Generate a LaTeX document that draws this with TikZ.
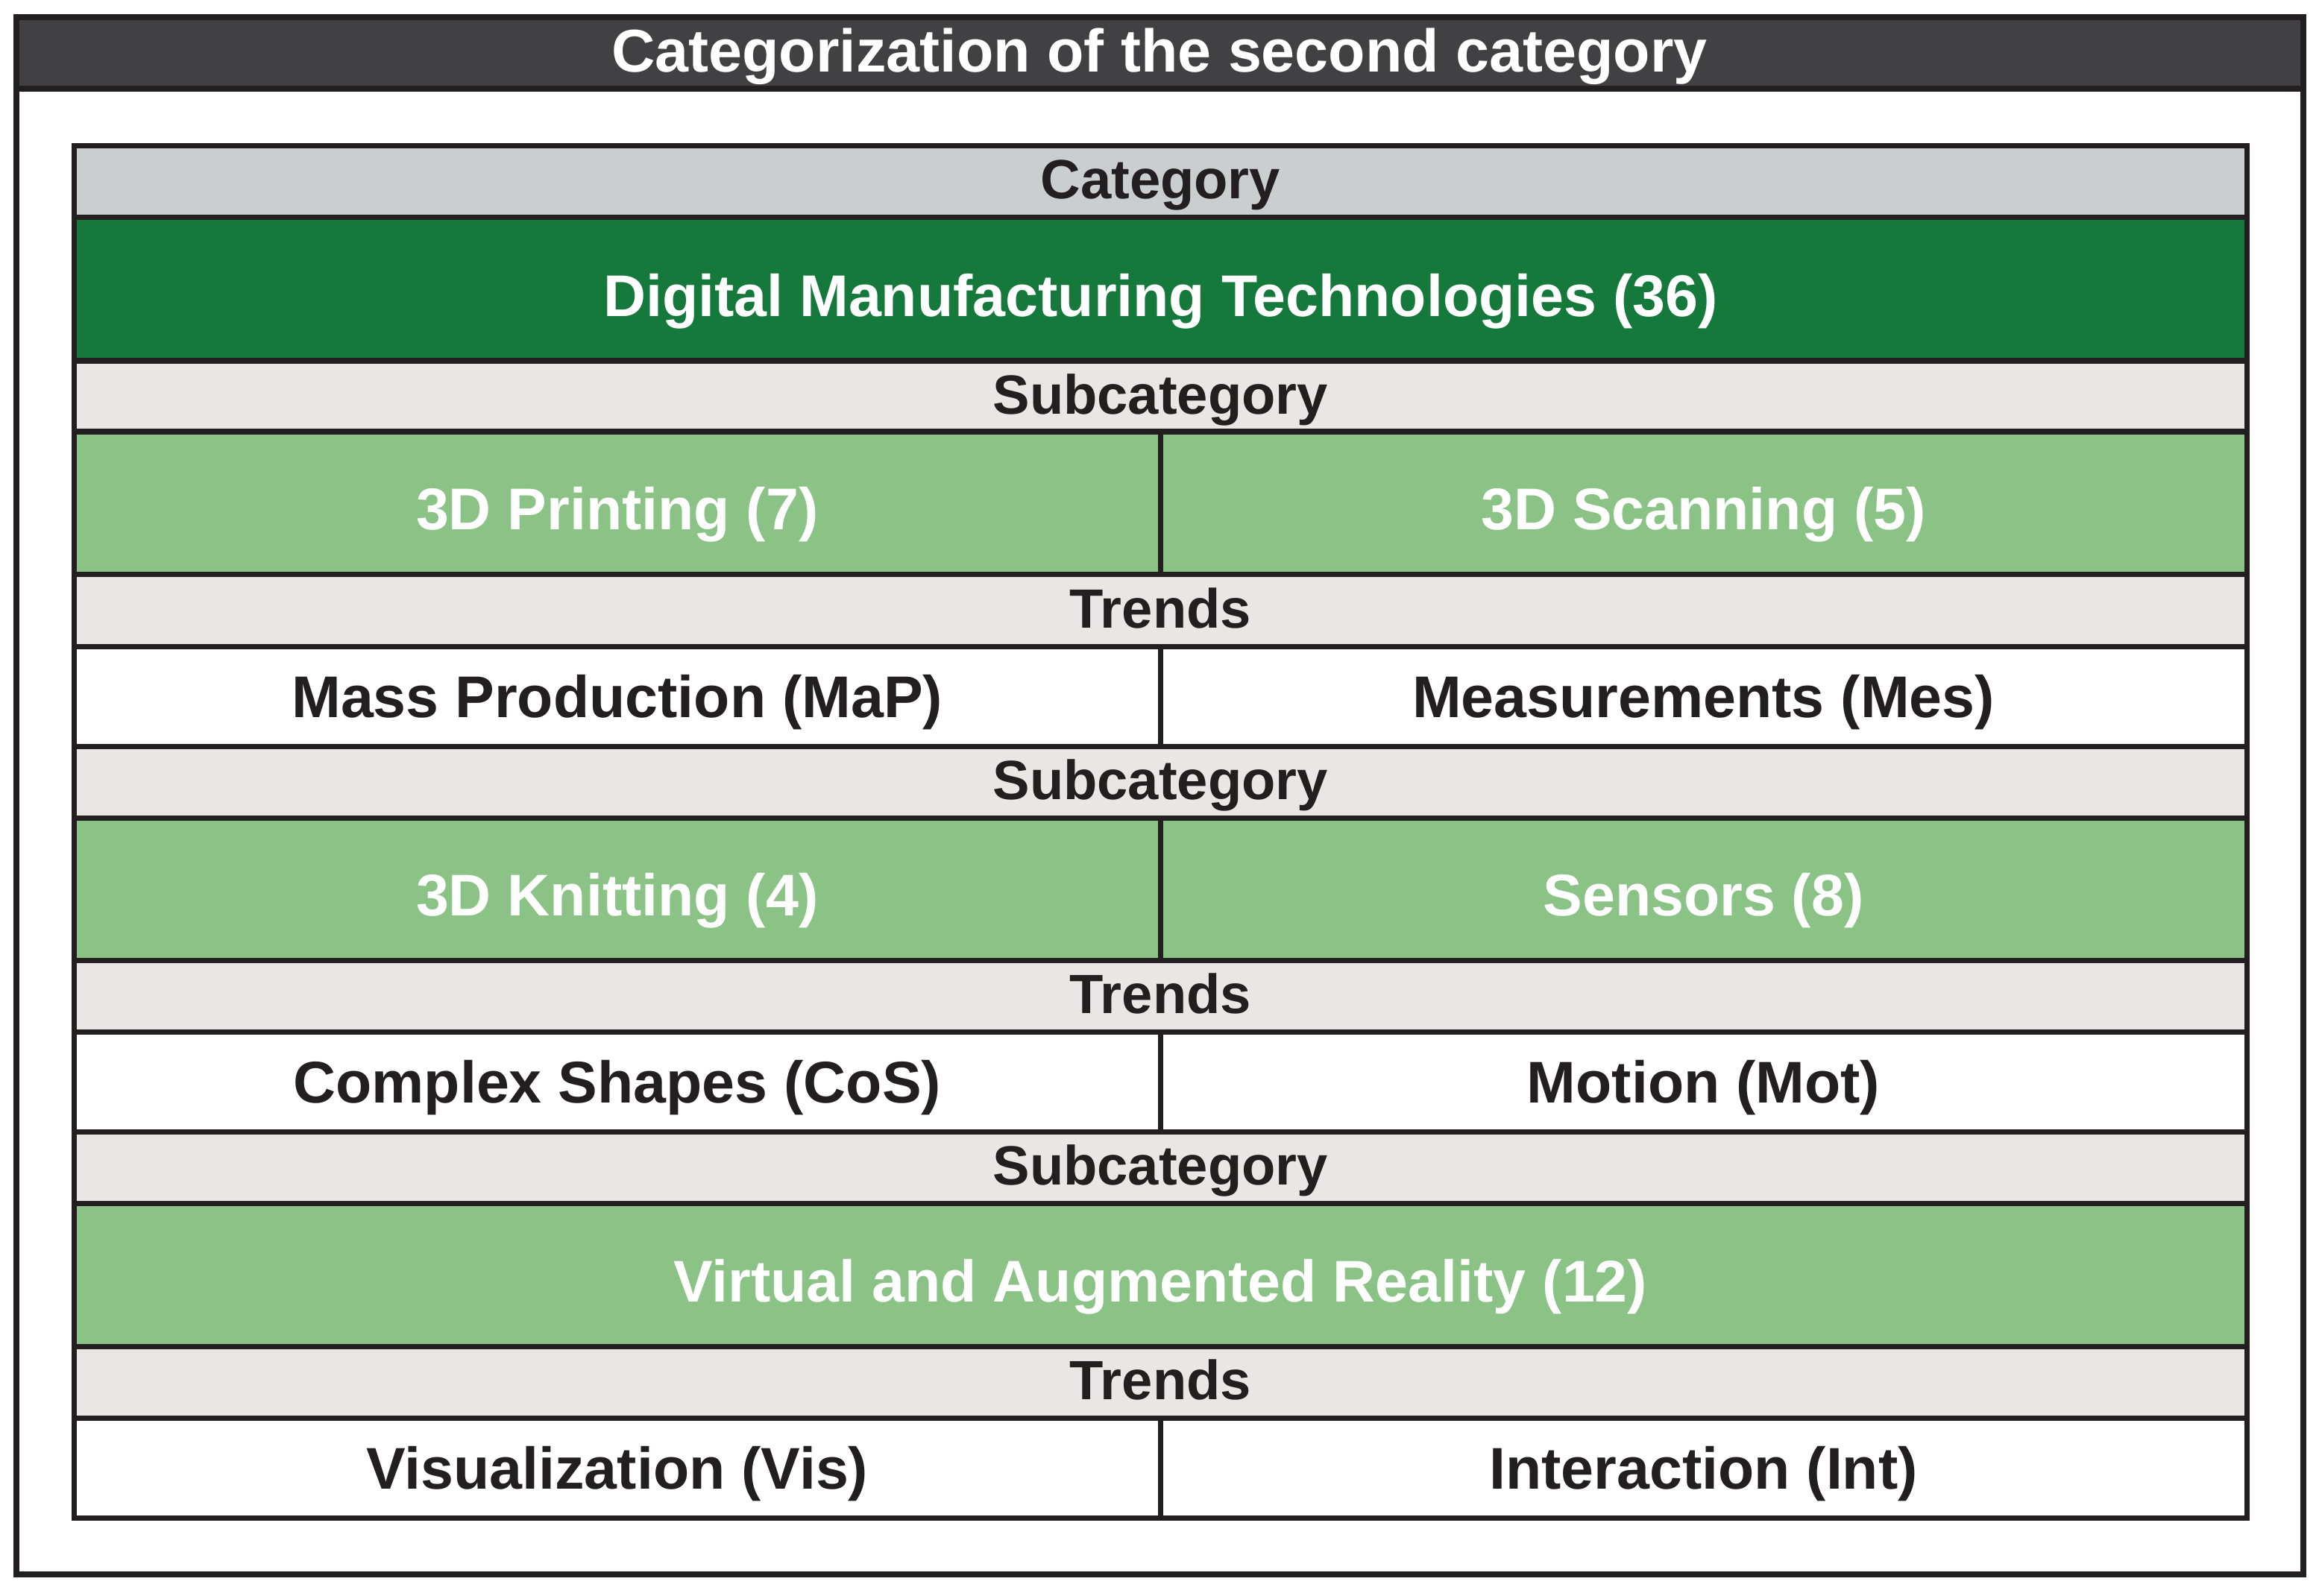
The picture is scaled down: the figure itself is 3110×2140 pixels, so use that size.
\documentclass[tikz,border=0pt]{standalone}
\usepackage{fontspec}
\setmainfont{Liberation Sans}
\definecolor{barbg}{HTML}{414042}
\definecolor{cathead}{HTML}{CBCECF}
\definecolor{dkgreen}{HTML}{16793C}
\definecolor{ltgreen}{HTML}{8BC386}
\definecolor{subhead}{HTML}{E8E7E6}
\definecolor{ink}{HTML}{231F20}
\tikzset{
  cell/.style={draw=ink, line width=0.07cm, inner sep=0pt, outer sep=0pt,
    font=\fontsize{22.45}{26}\selectfont\bfseries, text=ink,
    text height=16.1pt, text depth=0pt, fill=white},
  headcell/.style={cell, fill=subhead, font=\fontsize{21.1}{25}\selectfont\bfseries,
    text height=15.1pt, text depth=1.7pt},
  cathcell/.style={headcell, fill=cathead, text depth=2.3pt},
  dkcell/.style={cell, fill=dkgreen, text=white, text height=20.6pt},
  ltcell/.style={cell, fill=ltgreen, text=white, text height=20.6pt},
  framebox/.style={draw=ink, line width=0.08cm, inner sep=0pt, outer sep=0pt, fill=white},
  titlebar/.style={draw=ink, line width=0.08cm, inner sep=0pt, outer sep=0pt, fill=barbg},
  titletext/.style={font=\fontsize{23}{27}\selectfont\bfseries, text=white, inner sep=0pt,
    text height=16.5pt, text depth=0pt}
}
\newcommand\mycell[7]{\node[#6, minimum width={(#4-#2)*0.01cm}, minimum height={(#5-#3)*0.01cm}] (#1) at ({(#2+#4)/2},{(#3+#5)/2}) {#7};}
\begin{document}
\begin{tikzpicture}[x=0.01cm, y=-0.01cm]
\useasboundingbox (0,0) rectangle (3110,2140);
% outer frame and title bar
\mycell{frame}{22}{23}{3089}{2112}{framebox}{}
\mycell{bar}{22}{23}{3089}{119}{titlebar}{}
\node[titletext] (title) at (1555,67) {Categorization of the second category};
% table
\mycell{cat}{99.5}{196}{3013}{292}{cathcell}{Category}
\mycell{dmt}{99.5}{292}{3013}{484}{dkcell}{Digital Manufacturing Technologies (36)}
\mycell{suba}{99.5}{484}{3013}{579}{headcell}{Subcategory}
\mycell{print}{99.5}{579}{1556}{770}{ltcell}{3D Printing (7)}
\mycell{scan}{1556}{579}{3013}{770}{ltcell}{3D Scanning (5)}
\mycell{tra}{99.5}{770}{3013}{867}{headcell}{Trends}
\mycell{map}{99.5}{867}{1556}{1001}{cell}{Mass Production (MaP)}
\mycell{mes}{1556}{867}{3013}{1001}{cell}{Measurements (Mes)}
\mycell{subb}{99.5}{1001}{3013}{1097}{headcell}{Subcategory}
\mycell{knit}{99.5}{1097}{1556}{1288}{ltcell}{3D Knitting (4)}
\mycell{sens}{1556}{1097}{3013}{1288}{ltcell}{Sensors (8)}
\mycell{trb}{99.5}{1288}{3013}{1384}{headcell}{Trends}
\mycell{cos}{99.5}{1384}{1556}{1518}{cell}{Complex Shapes (CoS)}
\mycell{mot}{1556}{1384}{3013}{1518}{cell}{Motion (Mot)}
\mycell{subc}{99.5}{1518}{3013}{1614}{headcell}{Subcategory}
\mycell{var}{99.5}{1614}{3013}{1806}{ltcell}{Virtual and Augmented Reality (12)}
\mycell{trc}{99.5}{1806}{3013}{1902}{headcell}{Trends}
\mycell{vis}{99.5}{1902}{1556}{2036}{cell}{Visualization (Vis)}
\mycell{int}{1556}{1902}{3013}{2036}{cell}{Interaction (Int)}
\end{tikzpicture}
\end{document}
